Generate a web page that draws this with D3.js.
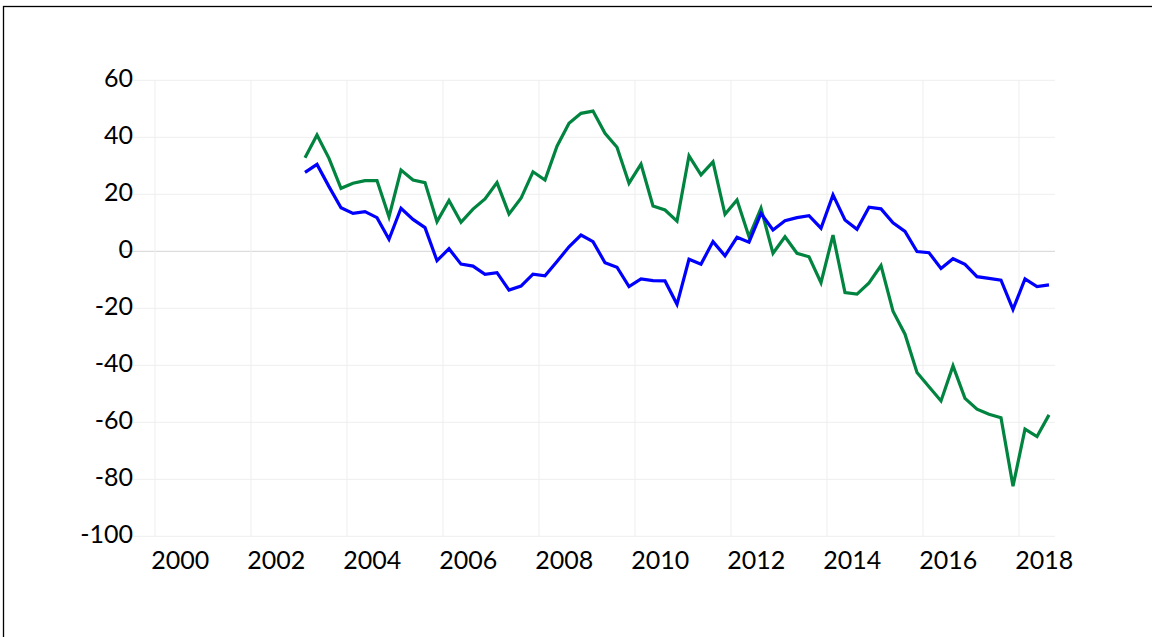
<!DOCTYPE html>
<html>
<head>
<meta charset="utf-8">
<script src="https://cdn.jsdelivr.net/npm/d3@7/dist/d3.min.js"></script>
<style>
  html, body { margin: 0; padding: 0; background: #fff; }
  svg { display: block; }
  text { font-family: Lato, "Open Sans", sans-serif; fill: #000; }
</style>
</head>
<body>
<svg id="chart" width="1152" height="637"></svg>
<script>
// Quarterly series, 2003Q1 .. 2018Q3
const startYear = 2000;          // first quarter on the axis: 2000Q1
const firstQuarter = 12;         // 2003Q1 as quarter index from 2000Q1
const quarterCount = 75;         // 2000Q1 .. 2018Q3

const seriesGreen = [
  32.8, 40.8, 32.6, 22.1, 23.9, 24.8, 24.8, 12.1, 28.5, 25.0, 24.1, 10.4,
  17.8, 10.2, 14.8, 18.4, 24.1, 13.1, 18.6, 27.9, 25.0, 36.9, 44.9, 48.4,
  49.2, 41.4, 36.5, 23.9, 30.6, 15.9, 14.5, 10.6, 33.5, 26.8, 31.4, 13.0,
  18.0, 5.1, 15.1, -0.7, 5.1, -0.7, -1.9, -11.0, 5.7, -14.5, -15.0, -11.1,
  -5.0, -21.0, -29.1, -42.5, -47.5, -52.5, -40.2, -51.6, -55.4, -57.2, -58.4,
  -82.4, -62.4, -65.0, -57.4
];

const seriesBlue = [
  27.7, 30.5, 22.7, 15.3, 13.3, 13.9, 11.8, 4.2, 15.1, 11.2, 8.3, -3.3,
  0.9, -4.5, -5.2, -8.1, -7.5, -13.6, -12.2, -8.0, -8.6, -3.6, 1.6, 5.7,
  3.4, -4.0, -5.6, -12.4, -9.7, -10.3, -10.4, -18.6, -2.8, -4.5, 3.4, -1.6,
  4.9, 3.2, 13.3, 7.5, 10.7, 11.8, 12.5, 8.1, 19.8, 11.0, 7.7, 15.5,
  14.9, 10.0, 7.0, -0.1, -0.5, -6.0, -2.6, -4.6, -8.9, -9.5, -10.1,
  -20.4, -9.7, -12.4, -11.8
];

const yTicks = [60, 40, 20, 0, -20, -40, -60, -80, -100];
const xTickYears = [2000, 2002, 2004, 2006, 2008, 2010, 2012, 2014, 2016, 2018];

const svg = d3.select("#chart");

// frame
svg.append("rect")
  .attr("x", 3.5).attr("y", 6.5)
  .attr("width", 1160).attr("height", 650)
  .attr("fill", "none").attr("stroke", "#000").attr("stroke-width", 1.3);

const plot = { left: 155, right: 1055, top: 80.3, bottom: 536.3 };

// quarter index scale (category boundaries at integers, points at centres)
const x = d3.scaleLinear().domain([0, quarterCount]).range([plot.left, plot.right]);
const y = d3.scaleLinear().domain([-100, 60]).range([plot.bottom, plot.top]);

// horizontal gridlines
svg.append("g").selectAll("line").data(yTicks).join("line")
  .attr("x1", plot.left - 35).attr("x2", plot.right)
  .attr("y1", d => y(d)).attr("y2", d => y(d))
  .attr("stroke", d => d === 0 ? "#d4d4d4" : "#eeeeee")
  .attr("stroke-width", 1);

// vertical gridlines at each labelled year boundary
svg.append("g").selectAll("line").data(xTickYears).join("line")
  .attr("x1", d => x((d - startYear) * 4)).attr("x2", d => x((d - startYear) * 4))
  .attr("y1", plot.top).attr("y2", plot.bottom)
  .attr("stroke", "#eeeeee").attr("stroke-width", 1);

// y labels
svg.append("g").selectAll("text").data(yTicks).join("text")
  .attr("x", 133).attr("y", d => y(d) - 3)
  .attr("text-anchor", "end").attr("dominant-baseline", "central")
  .attr("font-size", 25)
  .text(d => d);

// x labels
svg.append("g").selectAll("text").data(xTickYears).join("text")
  .attr("x", d => x((d - startYear) * 4 + 2.1))
  .attr("y", 559)
  .attr("text-anchor", "middle").attr("dominant-baseline", "central")
  .attr("font-size", 25)
  .text(d => d);

const line = d3.line()
  .x((d, i) => x(firstQuarter + i + 0.5))
  .y(d => y(d));

svg.append("path").datum(seriesGreen)
  .attr("d", line).attr("fill", "none")
  .attr("stroke", "#00843F").attr("stroke-width", 3.2)
  .attr("stroke-linejoin", "miter");

svg.append("path").datum(seriesBlue)
  .attr("d", line).attr("fill", "none")
  .attr("stroke", "#0000FF").attr("stroke-width", 3.2)
  .attr("stroke-linejoin", "miter");
</script>
</body>
</html>
